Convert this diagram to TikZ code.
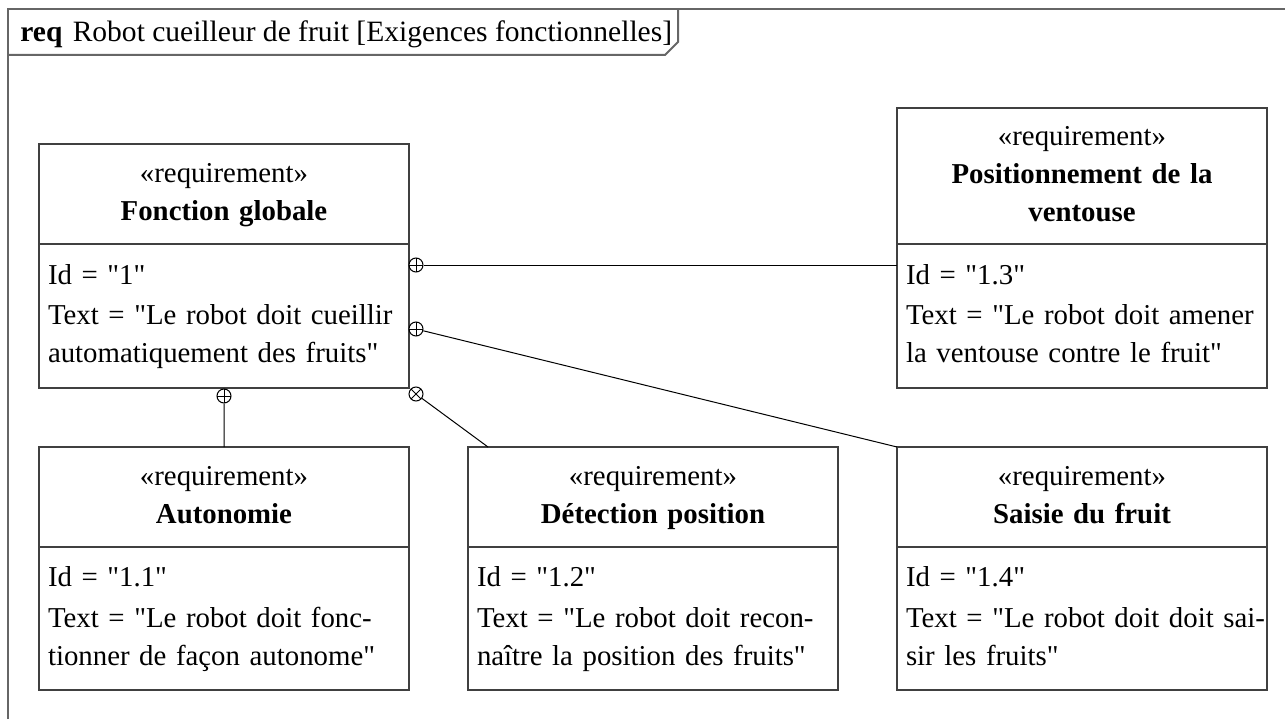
\documentclass[tikz,border=0pt]{standalone}
\usepackage{fontspec}
\setmainfont{Liberation Serif}[Ligatures=TeXOff]
\usepackage{tikz}
\usetikzlibrary{positioning}

\newcommand{\reqfont}{\fontsize{16.4}{21.6}\selectfont}

\tikzset{
  frame/.style={draw=black!60, line width=0.04cm},
  reqhead/.style={draw=black!75, line width=0.03cm, anchor=north west, outer sep=0cm,
    text width=7.04cm, inner xsep=0.18cm, inner ysep=0cm, align=center, font=\reqfont},
  reqbody/.style={draw=black!75, line width=0.03cm, below=0cm of #1, outer sep=0cm,
    text width=7.04cm, inner xsep=0.18cm, inner ysep=0cm, align=left, font=\reqfont},
  contain/.style={circle, draw, fill=white, line width=0.02cm, minimum size=0.28cm, inner sep=0cm},
  plus/.style={contain, path picture={
    \draw [line width=0.02cm] (path picture bounding box.north) -- (path picture bounding box.south)
      (path picture bounding box.west) -- (path picture bounding box.east);}},
  cross/.style={contain, path picture={
    \draw [line width=0.02cm] (path picture bounding box.north west) -- (path picture bounding box.south east)
      (path picture bounding box.south west) -- (path picture bounding box.north east);}},
  link/.style={line width=0.02cm, color=black}
}

\begin{document}
\begin{tikzpicture}

\useasboundingbox (0cm,0cm) rectangle (25.70cm,-14.38cm);

% cadre du diagramme
\draw [frame] (0.16cm,-14.38cm) -- (0.16cm,-0.18cm) -- (25.70cm,-0.18cm);
\draw [frame] (0.16cm,-1.10cm) -- (13.30cm,-1.10cm) -- (13.56cm,-0.84cm) -- (13.56cm,-0.18cm);
\node [anchor=base west, font=\fontsize{16.8}{21.6}\selectfont, inner sep=0cm] (titre) at (0.40cm,-0.84cm)
  {\textbf{req}\hspace{0.35em}Robot cueilleur de fruit [Exigences fonctionnelles]};

% exigences
\node [reqhead, minimum height=2.00cm] (glob) at (0.78cm,-2.88cm)
  {\strut«requirement»\\ \textbf{Fonction globale}\strut};
\node [reqbody=glob, minimum height=2.88cm] (globT)
  {\strut Id = "1"\\[1.5pt] \makebox[\linewidth][s]{Text = "Le robot doit cueillir}\\ automatiquement des fruits"\strut};

\node [reqhead, minimum height=2.72cm] (posit) at (17.94cm,-2.16cm)
  {\strut«requirement»\\ \textbf{Positionnement de la}\\ \textbf{ventouse}\strut};
\node [reqbody=posit, minimum height=2.88cm] (positT)
  {\strut Id = "1.3"\\[1.5pt] \makebox[\linewidth][s]{Text = "Le robot doit amener}\\ la ventouse contre le fruit"\strut};

\node [reqhead, minimum height=2.00cm] (auto) at (0.78cm,-8.94cm)
  {\strut«requirement»\\ \textbf{Autonomie}\strut};
\node [reqbody=auto, minimum height=2.86cm] (autoT)
  {\strut Id = "1.1"\\[1.5pt] \makebox[\linewidth][s]{Text = "Le robot doit fonc-}\\ tionner de façon autonome"\strut};

\node [reqhead, minimum height=2.00cm] (detec) at (9.36cm,-8.94cm)
  {\strut«requirement»\\ \textbf{Détection position}\strut};
\node [reqbody=detec, minimum height=2.86cm] (detecT)
  {\strut Id = "1.2"\\[1.5pt] \makebox[\linewidth][s]{Text = "Le robot doit recon-}\\ naître la position des fruits"\strut};

\node [reqhead, minimum height=2.00cm] (saisie) at (17.94cm,-8.94cm)
  {\strut«requirement»\\ \textbf{Saisie du fruit}\strut};
\node [reqbody=saisie, minimum height=2.86cm] (saisieT)
  {\strut Id = "1.4"\\[1.5pt] \makebox[\linewidth][s]{Text = "Le robot doit doit sai-}\\ sir les fruits"\strut};

% liens de composition
\node [plus] (c1) at (8.32cm,-5.30cm) {};
\node [plus] (c2) at (8.32cm,-6.58cm) {};
\node [cross] (c3) at (8.32cm,-7.88cm) {};
\node [plus] (c4) at (4.48cm,-7.92cm) {};
\coordinate (d) at (9.76cm,-8.94cm);

\draw [link] (c1) -- (positT.west |- c1);
\draw [link] (c2) -- (saisie.north west);
\draw [link] (c3) -- (d);
\draw [link] (c4) -- (auto.north);

\end{tikzpicture}
\end{document}
